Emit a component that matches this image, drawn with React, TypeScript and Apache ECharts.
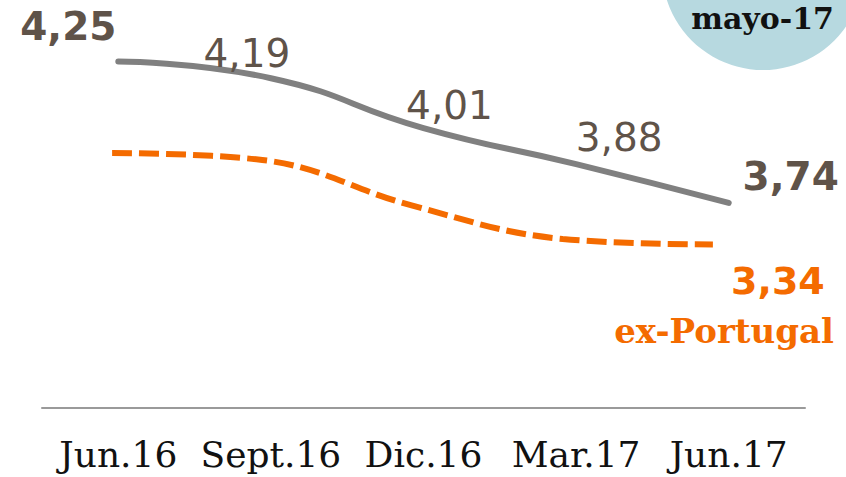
import React, { useEffect, useRef } from "react";
import * as echarts from "echarts";

const categories = ["Jun.16", "Sept.16", "Dic.16", "Mar.17", "Jun.17"];
const totalValues = [4.25, 4.19, 4.01, 3.88, 3.74];
const exPortugalValues = [3.67, 3.645, 3.48, 3.36, 3.34];
const totalLabels = ["4,25", "4,19", "4,01", "3,88", "3,74"];
const exPortugalLabel = "3,34";
const seriesName = "ex-Portugal";
const dateTag = "mayo-17";

// label placement styles (offsets relative to points)
const totalLabelOffsets = [
  [-50, -35],
  [-24, -25],
  [26, -23],
  [43, -27],
  [62, -26],
];
const totalLabelBold = [true, false, false, false, true];

const GRAY = "#808080";
const ORANGE = "#f46b00";
const TEXT = "#5f5349";
const SERIF = "'DejaVu Serif', serif";
const SANS = "'DejaVu Sans', sans-serif";

export default function App() {
  const ref = useRef<HTMLDivElement>(null);
  useEffect(() => {
    if (!ref.current) return;
    const chart = echarts.init(ref.current, null, { renderer: "svg" });
    const totalData = totalValues.map((v, i) => ({
      value: v,
      label: {
        show: true,
        position: "inside",
        offset: totalLabelOffsets[i],
        formatter: totalLabels[i],
        fontSize: 39,
        fontWeight: totalLabelBold[i] ? "bold" : "normal",
        fontFamily: SANS,
        color: TEXT,
      },
    }));
    const exData = exPortugalValues.map((v, i) => ({
      value: v,
      label:
        i === exPortugalValues.length - 1
          ? {
              show: true,
              position: "inside",
              offset: [65, 37],
              formatter: exPortugalLabel,
              fontSize: 38,
              fontWeight: "bold",
              fontFamily: SANS,
              color: ORANGE,
            }
          : { show: false },
    }));
    chart.setOption({
      animation: false,
      backgroundColor: "#ffffff",
      grid: [
        { left: 42, right: 41, top: 20, bottom: 69 },
        { left: 37, width: 751, top: 20, bottom: 69 },
      ],
      xAxis: [
        {
          type: "category",
          gridIndex: 0,
          data: categories,
          boundaryGap: true,
          axisLine: { show: true, lineStyle: { color: "#9a9a9a", width: 2 } },
          axisTick: { show: false },
          axisLabel: {
            interval: 0,
            margin: 28,
            fontSize: 36,
            fontFamily: SERIF,
            color: "#111111",
          },
          splitLine: { show: false },
        },
        {
          type: "category",
          gridIndex: 1,
          data: categories,
          boundaryGap: true,
          show: false,
        },
      ],
      yAxis: [
        { type: "value", gridIndex: 0, min: 3, max: 4.4, show: false, splitLine: { show: false } },
        { type: "value", gridIndex: 1, min: 2.75, max: 4.15, show: false, splitLine: { show: false } },
      ],
      graphic: [
        {
          type: "circle",
          z: -10,
          shape: { cx: 763, cy: -31, r: 101 },
          style: { fill: "#b7d9e0" },
          silent: true,
        },
        {
          type: "text",
          z: 10,
          x: 834,
          y: 18,
          style: {
            text: dateTag,
            fontSize: 30,
            fontWeight: "bold",
            fontFamily: SERIF,
            fill: "#111111",
            align: "right",
            verticalAlign: "middle",
          },
        },
        {
          type: "text",
          z: 10,
          x: 834,
          y: 331,
          style: {
            text: seriesName,
            fontSize: 34,
            fontWeight: "bold",
            fontFamily: SERIF,
            fill: ORANGE,
            align: "right",
            verticalAlign: "middle",
          },
        },
      ],
      series: [
        {
          type: "line",
          xAxisIndex: 0,
          yAxisIndex: 0,
          data: totalData,
          smooth: 0.5,
          showSymbol: true,
          symbol: "circle",
          symbolSize: 1,
          itemStyle: { color: "rgba(0,0,0,0)" },
          lineStyle: { color: GRAY, width: 6, cap: "round" },
          z: 3,
        },
        {
          type: "line",
          xAxisIndex: 1,
          yAxisIndex: 1,
          data: exData,
          smooth: 0.4,
          showSymbol: true,
          symbol: "circle",
          symbolSize: 1,
          itemStyle: { color: "rgba(0,0,0,0)" },
          lineStyle: { color: ORANGE, width: 6, type: [20, 7], cap: "butt" },
          z: 2,
        },
      ],
    });
    return () => chart.dispose();
  }, []);
  return <div ref={ref} style={{ width: 846, height: 477, position: "fixed", left: 0, top: 0 }} />;
}
